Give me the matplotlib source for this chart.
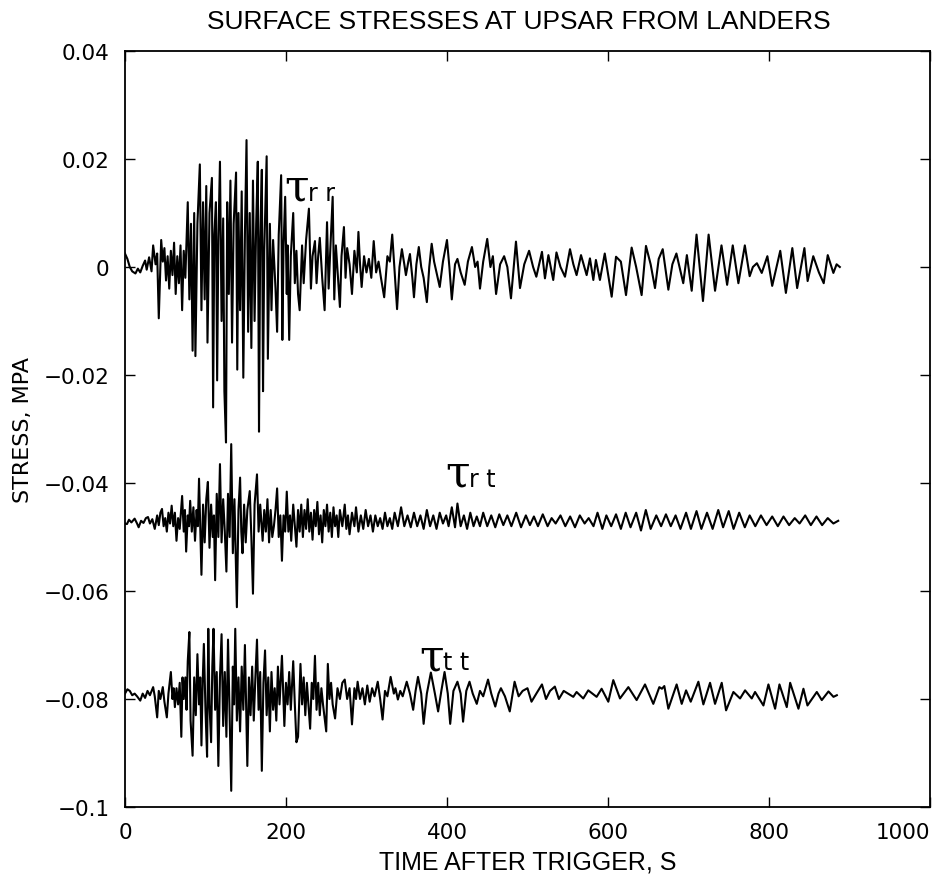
import numpy as np
import matplotlib
matplotlib.use('Agg')
import matplotlib.pyplot as plt

# stress traces, times in s, stress in kPa (deviation from trace baseline)
rr_t = [0, 3, 6, 9, 13, 16, 19, 22, 25, 27, 30, 33, 35, 38, 40, 42, 45, 47, 49, 51,
        53, 55, 57, 59, 61, 63, 65, 67, 69, 71, 73, 75, 78, 80, 82, 84, 86, 87.5, 90, 93,
        95, 97, 99, 101, 102.5, 105, 108, 109.5, 111, 113, 114.5, 116, 118, 120, 122, 123.5, 125.5, 127, 129, 131,
        133, 135, 138, 139.5, 141, 143, 145, 147, 149, 151, 153, 155, 157, 159, 161, 163, 165, 166.5, 168, 170,
        171.5, 173, 176, 177.5, 180, 182, 184, 187, 189, 191, 194, 195.5, 197, 199, 201, 202, 204, 206, 209, 211,
        213, 215, 217, 220, 222, 225, 228.5, 231, 233, 236, 238, 240, 242, 245, 248, 251, 253, 255, 258, 260,
        262, 265, 267, 269, 272, 274, 276, 279, 282, 285, 288, 290, 292, 294, 297, 300, 303, 306, 309, 312,
        315, 318, 322, 326, 329, 332, 335, 338, 341, 344, 347, 349, 352, 354, 357, 359, 362, 365, 368, 371,
        375, 378, 381, 384, 387, 391, 395, 400, 403, 406, 410, 413, 417, 422, 426, 431, 435, 438, 441, 445,
        450, 454, 457, 461, 466, 471, 475, 479.5, 485.7, 490.7, 496, 502, 507, 511, 518, 521.7, 526, 532, 536, 541,
        546.6, 552.8, 557, 561, 566.5, 573.5, 577.6, 581.8, 585, 590, 596, 604.6, 610, 616, 622.4, 629.4, 635, 641.8, 647.2, 653,
        658.4, 663, 668, 675, 680, 685, 693.5, 698, 704, 710, 718, 725, 733, 741, 748, 755, 762, 770, 776, 780,
        785, 791, 798, 804, 814, 821, 829, 835, 844, 848, 855, 862, 868, 873, 880, 884, 888]
rr_v = [2.5, 1.5, 0, -0.8, -1.2, -0.3, -1.0, 0.2, 1.2, -0.5, 1.8, -0.8, 4.0, 0.5, 2.5, -9.5, 5.0, 1.0, 3.5, -2.5,
        2.0, -4.0, 3.0, -1.5, 4.5, -5.0, 2.0, -3.0, 4.0, -8.0, 3.0, -2.0, 12.0, -6.0, 8.0, -15.5, 10.0, -16.5, 8.0, 19.0,
        -8.0, 12.0, -6.0, 15.0, -14.0, 10.0, 16.5, -26.0, 6.0, 12.0, -21.0, 5.0, 19.5, -10.0, 9.0, -23.0, -32.5, 12.0, -5.0, 16.0,
        -14.0, 8.0, 17.5, -19.0, 10.0, -8.0, 14.0, -20.5, 6.0, 23.5, -12.0, 10.0, -15.0, 16.0, -10.0, 8.0, 19.5, -30.5, 5.0, 18.0,
        -23.0, 3.0, 20.5, -17.0, 8.0, -8.0, 5.0, -4.0, -12.0, 6.0, 17.0, -13.5, 4.0, 13.0, -5.0, 4.0, -13.5, 2.0, 10.0, -3.0,
        3.0, -5.0, -8.0, 4.0, -3.0, 5.0, 10.8, -4.0, 2.0, 4.8, -3.0, 2.0, 5.4, -2.0, -8.0, 8.3, -4.0, 3.0, 13.0, -6.0,
        4.0, -3.0, -7.4, 2.0, 7.4, -2.0, 3.5, 0.5, -5.0, 3.0, -1.0, 6.5, 0.5, -3.7, 2.0, -1.0, 1.5, -2.0, 4.8, -1.0,
        1.0, -2.0, -5.6, 2.0, 1.0, 6.0, -1.0, -7.8, 0.0, 3.3, 0.5, -1.5, 1.0, 2.4, -2.0, -5.6, 0.5, 3.7, 0.0, -2.0,
        -6.5, 0.0, 4.3, 1.0, -1.0, -3.7, 1.0, 5.0, 0.0, -6.0, 0.5, 1.5, -1.0, -3.3, 1.0, 3.7, 0.0, 1.0, -4.0, 1.0,
        5.2, 0.0, 2.0, -5.0, 0.5, 2.0, 0.0, -5.8, 4.7, -3.9, 0.5, 3.0, 0.0, -1.8, 2.8, -2.1, 2.2, -2.4, 2.7, 0.0,
        -1.8, 3.3, 0.5, -1.5, 2.2, -1.5, 1.6, -2.4, 1.3, -2.4, 2.5, -5.5, 1.9, 1.0, -5.2, 3.6, 0.0, -5.2, 3.9, 0.5,
        -3.9, 1.5, 3.3, -4.2, 0.5, 2.5, -3.0, 2.2, -4.4, 6.0, -6.3, 6.0, -4.4, 4.0, -3.3, 4.0, -3.0, 4.0, -1.7, 0.0,
        0.7, -1.1, 2.0, -3.5, 3.0, -4.8, 3.5, -3.9, 3.5, -2.6, 2.0, -1.0, -3.0, 2.2, -1.1, 0.5, 0.0]

rt_t = [0, 2.5, 5, 8, 12, 15, 17, 20, 23, 26, 28.6, 31, 34, 37, 40, 42, 44, 46, 48, 50,
        52, 54, 56, 58, 60, 62, 64, 66, 68, 71, 73, 74.5, 76, 78, 79.5, 81, 83, 85, 87, 89,
        90.5, 92, 95, 97, 99, 101, 103, 105, 107, 109, 110.5, 112, 114, 116, 118, 120, 122, 124, 126, 128,
        130, 132, 134, 136, 139, 141, 143, 144.5, 146, 148, 150, 152, 155, 157, 159, 161, 164, 166, 168, 171,
        173, 175, 177, 179, 181, 183, 185, 187, 189, 191, 193, 195, 197, 199, 201, 203, 205, 206.5, 209, 211,
        213, 215, 217, 219, 221, 223, 225, 227, 229, 231, 233, 235, 237, 239, 241, 243, 245, 247, 249, 251,
        253, 255, 257, 259, 261, 263, 265, 267, 270, 273, 275, 277, 279, 282, 285, 287, 290, 293, 296, 299,
        302, 305, 308, 311, 314, 317, 320, 323, 326, 329, 332, 335, 339, 343, 347, 351, 355, 359, 363, 367,
        371, 375, 379, 383, 387, 391, 395, 399, 402, 406, 410, 413, 417, 421, 425, 429, 433, 437, 441, 445,
        450, 455, 460, 465, 470, 475, 480, 486, 492, 498, 503, 508, 513, 519, 525, 530, 535, 541, 547, 553,
        559, 565, 571, 576, 582, 587, 593, 598, 604, 610, 616, 622, 628, 635, 641, 647, 653, 660, 666, 672,
        678, 684, 690, 697, 703, 710, 716, 723, 730, 737, 743, 750, 756, 763, 770, 776, 783, 790, 797, 804,
        811, 818, 825, 832, 838, 845, 852, 859, 866, 873, 880, 886]
rt_v = [-0.5, -0.6, 0.2, -0.3, 0.4, -0.5, -1.2, 0.0, -0.4, 0.5, 0.7, -0.5, 0.3, -1.5, 1.0, -0.8, 1.5, 2.2, -1.0, 0.5,
        -2.0, 1.5, -0.5, 2.8, -1.0, 1.5, -3.7, 0.5, -1.5, 4.6, -2.0, 2.0, -5.7, 1.0, -1.0, 3.7, -2.0, 2.5, -3.7, 2.0,
        -1.0, 7.8, -10.0, 3.0, -4.0, 4.0, 7.2, -5.0, 3.0, -3.0, 1.0, -11.0, 5.0, -3.0, 10.5, -4.0, 4.0, -2.0, -9.4, 5.0,
        -3.0, 14.2, -6.0, 4.0, -16.0, 2.0, 8.0, -2.0, -6.0, 3.0, -4.0, 2.0, 5.5, -3.0, -13.5, 3.0, 8.6, -2.0, 3.0, -3.7,
        2.0, -2.0, 4.0, -4.0, 2.0, -3.0, -1.0, 2.0, 6.0, -3.0, 1.0, -7.4, 1.0, -2.0, 5.4, -2.0, 1.0, -3.7, 3.0, -1.0,
        -4.8, 2.0, -2.0, 3.0, -3.0, 2.0, -1.5, 4.0, -2.0, 1.5, -3.5, 2.0, -1.0, 3.5, -2.5, 1.0, -4.0, 2.0, -1.0, 3.0,
        -2.0, 1.5, -3.0, 2.5, -1.0, 1.0, -3.0, 2.0, -1.0, 3.0, -1.5, 1.0, -2.5, 1.5, -1.0, 2.5, -2.0, 1.0, -1.5, 2.0,
        -1.0, 1.0, -2.0, 1.0, -1.0, 0.5, -1.5, 1.5, -1.0, 0.5, -1.5, 1.5, -1.0, 2.5, -1.0, 1.0, -1.2, 1.5, -1.0, 1.0,
        -1.5, 2.0, -1.0, 1.0, -1.5, 1.5, -0.5, 1.0, -1.0, 2.5, -1.2, 3.2, -1.0, 1.0, -1.5, 1.5, -1.0, 0.8, -1.0, 1.5,
        -1.0, 1.0, -1.2, 1.2, -0.8, 1.0, -1.0, 1.5, -1.2, 1.0, -0.8, 0.8, -1.0, 1.2, -1.0, 0.5, -0.5, 1.0, -1.0, 0.8,
        -1.2, 1.0, -0.5, 0.5, -1.0, 1.5, -1.5, 1.0, -1.0, 1.2, -1.5, 1.5, -1.2, 1.5, -1.8, 2.0, -1.5, 1.0, -1.0, 1.2,
        -1.0, 1.0, -1.5, 1.5, -1.5, 1.8, -1.5, 1.5, -1.5, 2.0, -1.2, 1.8, -1.5, 1.5, -1.2, 1.0, -1.0, 1.0, -0.8, 0.8,
        -1.0, 0.8, -0.8, 0.5, -0.5, 1.0, -0.8, 0.8, -0.8, 0.5, -0.5, 0.0]

tt_t = [0, 3, 6, 9, 12, 15, 19, 22, 25, 28, 31, 35, 37, 40, 42, 44, 47, 49, 52, 54,
        57, 59, 60.5, 62, 64, 66, 68, 70, 71.5, 73, 75, 76.5, 78, 80, 81.5, 84, 86, 88, 90, 92,
        93.5, 95, 96.5, 98, 100, 102, 103.5, 105, 107, 108.5, 110, 112, 114, 116, 118, 120, 122, 124, 126, 128,
        130, 132, 134, 135.5, 137, 139, 141, 143, 145, 147, 149, 152, 154, 156, 158, 160, 162, 164, 166, 168,
        170, 172, 174, 176, 178, 180, 182, 184, 186, 188, 190, 192, 195, 198, 200, 202, 204, 206, 209, 211,
        213, 215, 218, 220, 222, 224, 226, 230, 232, 234, 236, 238, 240, 242, 244, 246, 250, 252, 254, 256,
        258, 261, 264, 267, 270, 273, 276, 279, 282, 285, 287, 289, 292, 295, 298, 301, 304, 307, 310, 314,
        317, 320, 323, 326, 330, 334, 336, 339, 342, 345, 350, 354, 358, 361, 364, 368, 371, 375, 380, 385,
        389, 393, 397, 401, 404, 408, 413, 417, 420, 424, 428, 432, 437, 441, 445, 451, 455, 460, 464, 467,
        472, 478, 484, 489, 494, 500, 505, 511, 518, 523, 528, 534, 539, 545, 556.9, 561, 569.3, 575.5, 585.9, 592.1,
        600.4, 606.6, 614.9, 625.3, 635.6, 646, 656.3, 663.8, 667, 670, 675, 685.3, 691.6, 697, 702.8, 712.3, 718.5, 726.8, 733, 741.3,
        746.7, 755.8, 764.1, 770.3, 778.6, 782.7, 793.1, 799.3, 807.6, 813, 822.1, 826.3, 836.6, 842.8, 847.8, 859.4, 865.6, 873.9, 880.1, 884.3]
tt_v = [0.0, 0.8, 0.5, -0.3, 0.0, -0.5, -1.3, 0.0, -0.8, 0.5, -0.3, 1.2, -0.5, -4.4, 0.5, -1.0, 1.2, -1.5, -4.4, 0.0,
        4.0, -1.0, 1.0, -2.5, 1.0, -2.0, 2.0, -8.0, 3.0, -1.0, 3.0, -3.0, 6.0, 11.4, -5.0, -11.5, 3.0, -4.0, 7.3, -2.0,
        3.0, -9.6, 2.0, 9.2, -3.0, -11.7, 12.0, -2.0, -9.0, 5.0, 12.0, -3.0, 4.0, -13.4, 3.0, 11.0, -6.0, 4.0, -8.0, 10.0,
        -4.0, -18.0, 5.0, -2.0, 12.0, -5.0, 3.0, -7.0, 5.0, -3.0, 9.0, -13.4, 3.0, -4.0, 5.0, -5.0, 3.0, 10.0, -3.0, 4.0,
        -14.3, 2.0, 8.0, -4.0, 3.0, -7.0, 4.0, -3.0, 1.0, -5.0, 5.0, -2.0, 7.0, -6.0, 2.0, -2.0, 4.0, -3.0, 6.0, -2.0,
        -9.0, -8.0, 5.5, -2.0, 3.0, -4.0, 2.0, -6.5, 2.0, -1.0, 7.0, -3.0, 2.0, -4.0, 1.0, -2.0, -7.0, 5.5, -1.0, 2.0,
        -2.0, -4.6, 1.0, -1.0, 2.0, 2.6, -1.0, 1.0, -5.7, 1.0, -1.0, 2.2, -1.0, 1.0, -2.0, 1.5, -1.5, 1.0, -0.5, 2.2,
        -1.0, -4.8, 0.5, -0.5, 3.1, 0.0, 1.0, -1.1, 0.5, -0.5, 2.2, 0.0, -3.0, 0.5, 3.1, 0.0, -5.6, 0.0, 3.9, 0.0,
        -3.3, 0.5, 4.0, 0.0, -5.6, 0.5, 2.2, 0.0, -5.2, 0.5, 2.2, 0.0, -1.9, 0.5, -0.5, 2.6, 0.0, -2.4, 0.0, 1.0,
        -0.5, -3.3, 2.2, -0.5, 0.5, 1.0, -1.5, 0.0, 1.7, -1.0, 0.5, 1.3, -1.0, 0.5, -0.6, 0.3, -0.9, 0.6, -0.6, 0.9,
        -1.5, 2.5, -0.9, 1.2, -1.2, 1.7, -1.9, 1.2, 0.9, 1.4, -2.8, 1.7, -1.9, 0.6, -1.5, 2.2, -2.0, 2.0, -1.9, 2.0,
        -3.1, 0.3, -0.9, 0.6, -0.9, 0.3, -2.2, 1.7, -2.8, 1.7, -2.5, 2.0, -2.8, 0.9, -2.2, 0.3, -1.2, 0.4, -0.6, -0.3]

# baselines of the three traces (MPa), as plotted
rr_base = 0.0
rt_base = -0.047
tt_base = -0.079

xticks = [0, 200, 400, 600, 800, 1000]
yticks = [-0.1, -0.08, -0.06, -0.04, -0.02, 0, 0.02, 0.04]
ylabels = ['\u22120.1', '\u22120.08', '\u22120.06', '\u22120.04', '\u22120.02', '0', '0.02', '0.04']

fig = plt.figure(figsize=(9.34, 8.95), dpi=100)
ax = fig.add_axes([0.1338, 0.0972, 0.8619, 0.8447])

for t, v, base in [(rr_t, rr_v, rr_base), (rt_t, rt_v, rt_base), (tt_t, tt_v, tt_base)]:
    ax.plot(t, base + np.array(v) * 1e-3, color='black', lw=1.5, solid_joinstyle='round')

ax.set_xlim(0, 1000)
ax.set_ylim(-0.1, 0.04)
ax.set_xticks(xticks)
ax.set_xticklabels([str(x) for x in xticks], fontsize=15.5, family='DejaVu Sans')
ax.get_xticklabels()[-1].set_ha('right')   # keep "1000" inside the figure
ax.set_yticks(yticks)
ax.set_yticklabels(ylabels, fontsize=15.5, family='DejaVu Sans')
ax.tick_params(direction='in', length=7, width=1, top=True, right=True, pad=11)
for s in ax.spines.values():
    s.set_linewidth(1.3)

ax.set_xlabel('TIME AFTER TRIGGER, S', fontsize=18, family='Liberation Sans', labelpad=5)
ax.set_ylabel('STRESS, MPA', fontsize=16, family='DejaVu Sans', labelpad=8)
fig.text(0.556, 0.975, 'SURFACE STRESSES AT UPSAR FROM LANDERS', fontsize=19,
         family='Liberation Sans', ha='center', va='center')

# trace labels
for x, y, sub in [(198, 0.0125, 'r r'), (398, -0.0405, 'r t'), (366, -0.0745, 't t')]:
    ax.text(x, y, '\u03c4', fontsize=32, family='DejaVu Serif', ha='left', va='baseline')
    ax.text(x + 29, y, sub, fontsize=17, family='DejaVu Sans', ha='left', va='baseline')

fig.savefig('out.png', dpi=100)
